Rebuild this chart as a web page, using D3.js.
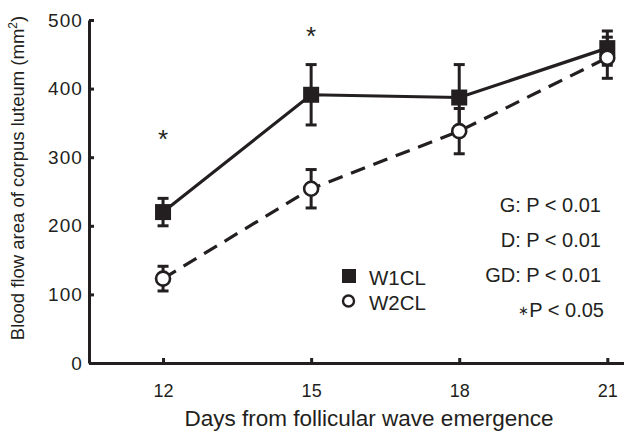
<!DOCTYPE html>
<html>
<head>
<meta charset="utf-8">
<script src="https://cdn.jsdelivr.net/npm/d3@7"></script>
<style>
  body { margin: 0; background: #fff; }
  svg { display: block; font-family: "Liberation Sans", Arial, sans-serif; }
</style>
</head>
<body>
<div id="chart"></div>
<script>
var days = [12, 15, 18, 21];
var w1Mean = [220, 391, 387, 459];
var w1Err = [20, 44, 48, 25];
var w2Mean = [123, 254, 338, 445];
var w2Err = [18, 28, 33, 30];
var yTicks = [0, 100, 200, 300, 400, 500];
var starDays = [12, 15];
var starValues = [332, 482];
var statLabels = ['G: P < 0.01', 'D: P < 0.01', 'GD: P < 0.01', 'P < 0.05'];

var width = 624, height = 432;
var ink = '#231f20';
var svg = d3.select('#chart').append('svg')
  .attr('width', width)
  .attr('height', height);

var x = d3.scaleLinear().domain([10.5, 21.5]).range([89, 632]);
var y = d3.scaleLinear().domain([0, 500]).range([363, 20]);

// axes
var xAxis = svg.append('g')
  .attr('transform', 'translate(0,' + y(0) + ')')
  .call(d3.axisBottom(x).tickValues(days).tickSizeInner(-5).tickSizeOuter(0).tickPadding(21));
var yAxis = svg.append('g')
  .attr('transform', 'translate(' + x(10.5) + ',0)')
  .call(d3.axisLeft(y).tickValues(yTicks).tickSizeInner(-5).tickSizeOuter(0).tickPadding(6));

[xAxis, yAxis].forEach(function(a) {
  a.select('.domain').attr('stroke', ink).attr('stroke-width', 3);
  a.selectAll('.tick line').attr('stroke', ink).attr('stroke-width', 3);
  a.selectAll('.tick text').attr('fill', ink)
    .attr('font-family', '"Liberation Sans", Arial, sans-serif');
});
xAxis.selectAll('.tick text').attr('font-size', 18);
yAxis.selectAll('.tick text').attr('font-size', 19).attr('letter-spacing', 1.1);

// axis labels
svg.append('text')
  .attr('x', 369).attr('y', 426)
  .attr('text-anchor', 'middle')
  .attr('font-size', 22.5).attr('fill', ink)
  .text('Days from follicular wave emergence');

var yl = svg.append('text')
  .attr('transform', 'translate(24,178) rotate(-90)')
  .attr('text-anchor', 'middle')
  .attr('font-size', 18.5).attr('fill', ink);
yl.append('tspan').text('Blood flow area of corpus luteum (mm');
yl.append('tspan').attr('font-size', 12).attr('dy', -7).text('2');
yl.append('tspan').attr('dy', 7).text(')');

var line = d3.line()
  .x(function(d) { return x(d[0]); })
  .y(function(d) { return y(d[1]); });

var w1 = days.map(function(d, i) { return [d, w1Mean[i], w1Err[i]]; });
var w2 = days.map(function(d, i) { return [d, w2Mean[i], w2Err[i]]; });

svg.append('path').datum(w2)
  .attr('d', line).attr('fill', 'none')
  .attr('stroke', ink).attr('stroke-width', 3.2)
  .attr('stroke-dasharray', '15,9');
svg.append('path').datum(w1)
  .attr('d', line).attr('fill', 'none')
  .attr('stroke', ink).attr('stroke-width', 3.2);

function errorBars(data) {
  var g = svg.append('g').attr('stroke', ink).attr('stroke-width', 3);
  data.forEach(function(d) {
    var cx = x(d[0]);
    g.append('line').attr('x1', cx).attr('x2', cx)
      .attr('y1', y(d[1] - d[2])).attr('y2', y(d[1] + d[2]));
    [d[1] - d[2], d[1] + d[2]].forEach(function(v) {
      g.append('line').attr('x1', cx - 5.5).attr('x2', cx + 5.5)
        .attr('y1', y(v)).attr('y2', y(v));
    });
  });
}
errorBars(w1);
errorBars(w2);

svg.append('g').selectAll('rect').data(w1).join('rect')
  .attr('x', function(d) { return x(d[0]) - 8; })
  .attr('y', function(d) { return y(d[1]) - 8; })
  .attr('width', 16).attr('height', 16)
  .attr('fill', ink);

svg.append('g').selectAll('circle').data(w2).join('circle')
  .attr('cx', function(d) { return x(d[0]); })
  .attr('cy', function(d) { return y(d[1]); })
  .attr('r', 7)
  .attr('fill', '#fff').attr('stroke', ink).attr('stroke-width', 2.6);

// significance stars
svg.append('g').selectAll('text').data(starDays).join('text')
  .attr('x', function(d) { return x(d); })
  .attr('y', function(d, i) { return y(starValues[i]) + 13; })
  .attr('text-anchor', 'middle')
  .attr('font-size', 26).attr('fill', ink)
  .text('*');

// stats text
var stats = svg.append('g').selectAll('text').data(statLabels).join('text')
  .attr('x', function(d, i) { return i === 3 ? 604 : 601; })
  .attr('y', function(d, i) { return 212 + i * 35; })
  .attr('text-anchor', 'end')
  .attr('font-size', 20).attr('fill', ink);
stats.each(function(d, i) {
  var t = d3.select(this);
  if (i === 3) t.append('tspan').attr('font-size', 13).attr('dy', -2).text('\u2217');
  t.append('tspan').attr('dy', i === 3 ? 2 : 0).text(d);
});

// legend
var legend = svg.append('g');
legend.append('rect').attr('x', 342).attr('y', 269).attr('width', 14).attr('height', 14)
  .attr('fill', ink);
legend.append('circle').attr('cx', 348.5).attr('cy', 301).attr('r', 5.5)
  .attr('fill', '#fff').attr('stroke', ink).attr('stroke-width', 2.4);
legend.append('text').attr('x', 369).attr('y', 285).attr('font-size', 20.5)
  .attr('fill', ink).text('W1CL');
legend.append('text').attr('x', 369).attr('y', 310).attr('font-size', 20.5)
  .attr('fill', ink).text('W2CL');
</script>
</body>
</html>
